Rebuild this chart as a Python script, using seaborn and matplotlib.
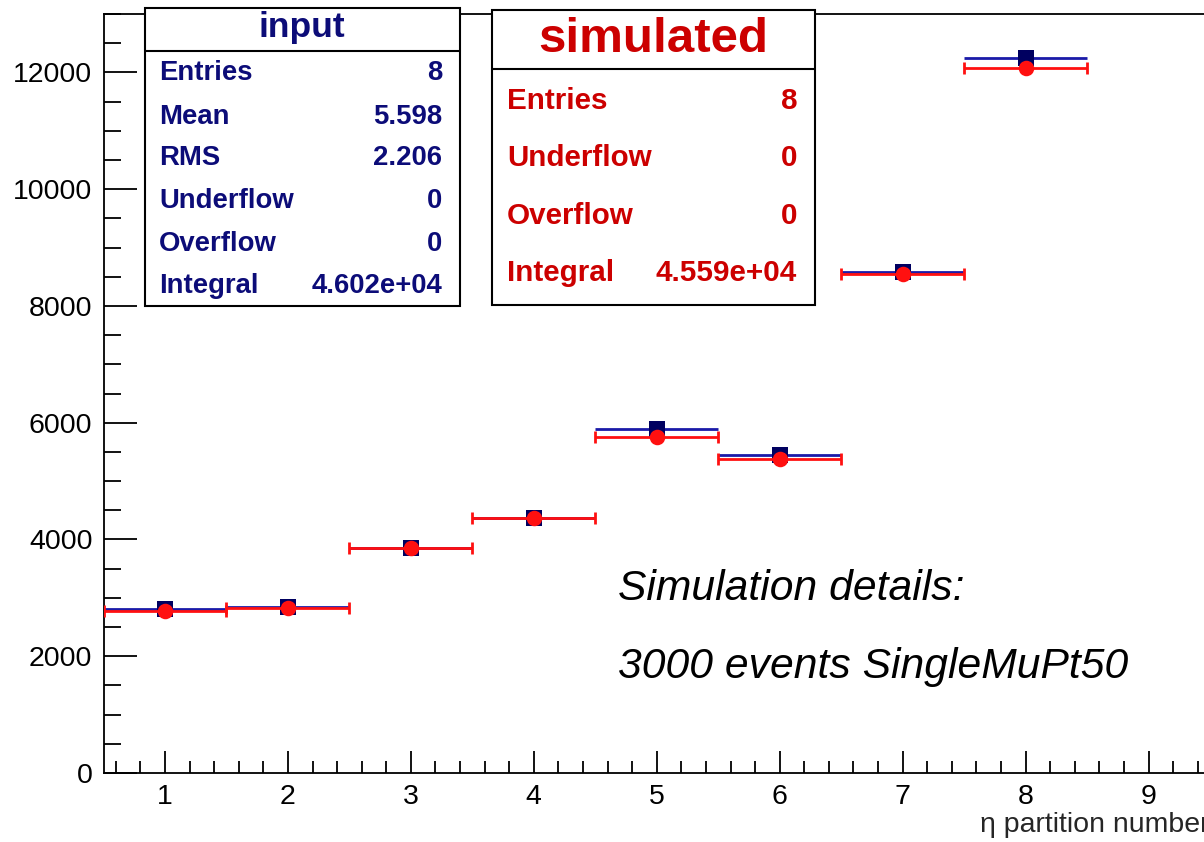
import numpy as np
import pandas as pd
import matplotlib
matplotlib.use("Agg")
import matplotlib.pyplot as plt
import seaborn as sns
from matplotlib.patches import Rectangle
from matplotlib.lines import Line2D
from matplotlib.ticker import MultipleLocator

# ---------------- data ----------------
partition = [1, 2, 3, 4, 5, 6, 7, 8]
input_counts = [2810, 2850, 3850, 4360, 5890, 5440, 8580, 12250]
sim_counts = [2780, 2820, 3850, 4370, 5760, 5380, 8550, 12080]
bin_half_width = 0.5

x_ticks = [1, 2, 3, 4, 5, 6, 7, 8, 9]
y_ticks = [0, 2000, 4000, 6000, 8000, 10000, 12000]
x_label = "η partition number"

input_title = "input"
input_stats = [("Entries", "8"), ("Mean", "5.598"), ("RMS", "2.206"),
               ("Underflow", "0"), ("Overflow", "0"), ("Integral", "4.602e+04")]
sim_title = "simulated"
sim_stats = [("Entries", "8"), ("Underflow", "0"), ("Overflow", "0"),
             ("Integral", "4.559e+04")]
note_lines = ["Simulation details:", "3000 events SingleMuPt50"]

# ---------------- style ----------------
sns.set_style("white")
plt.rcParams["font.family"] = ["Liberation Sans", "DejaVu Sans"]

NAVY = "#0c0c78"
NAVY_MARK = "#000060"
BLUE_LINE = "#1a1aa8"
RED = "#ff1010"
RED_TEXT = "#cc0000"

W, H = 1204, 842
fig = plt.figure(figsize=(W / 100, H / 100), dpi=100)


def fx(px):
    return px / W


def fy(py):
    return 1 - py / H


ax = fig.add_axes([fx(103.5), fy(773), (1210 - 103.5) / W, (773 - 14) / H])

df_in = pd.DataFrame({"partition": partition, "count": input_counts})
df_sim = pd.DataFrame({"partition": partition, "count": sim_counts})

ax.errorbar(df_in["partition"], df_in["count"], xerr=bin_half_width, fmt="none",
            ecolor=BLUE_LINE, elinewidth=2.0, capsize=0, zorder=2)
sns.scatterplot(data=df_in, x="partition", y="count", marker="s", s=135,
                color=NAVY_MARK, linewidth=0, ax=ax, zorder=3, legend=False)
ax.errorbar(df_sim["partition"], df_sim["count"], xerr=bin_half_width, fmt="none",
            ecolor=RED, elinewidth=2.0, capsize=4, capthick=2.0, zorder=4)
sns.scatterplot(data=df_sim, x="partition", y="count", marker="o", s=125,
                color=RED, linewidth=0, ax=ax, zorder=5, legend=False)

ax.set_xlim(0.5, 9.5)
ax.set_ylim(0, 13000)
ax.set_xticks(x_ticks)
ax.set_yticks(y_ticks)
ax.xaxis.set_minor_locator(MultipleLocator(0.2))
ax.yaxis.set_minor_locator(MultipleLocator(500))
ax.tick_params(which="both", bottom=True, left=True, top=False, right=False,
               direction="in", color="black", width=1.3)
ax.tick_params(axis="x", which="major", length=16, labelsize=20.5, pad=8,
               labelcolor="black")
ax.tick_params(axis="x", which="minor", length=9)
ax.tick_params(axis="y", which="major", length=24, labelsize=20.5, pad=8,
               labelcolor="black")
ax.tick_params(axis="y", which="minor", length=12)
for sp in ax.spines.values():
    sp.set_visible(True)
    sp.set_color("black")
    sp.set_linewidth(1.3)
ax.set_xlabel(x_label, loc="right", fontsize=20.5, labelpad=1)
ax.set_ylabel("")


# ---------------- stat boxes ----------------
def stat_box(x0, y0, x1, y1, ysep, title, title_xy, title_size, rows, row_ys,
             lx, rx, size, color):
    fig.add_artist(Rectangle((fx(x0), fy(y1)), fx(x1) - fx(x0), fy(y0) - fy(y1),
                             transform=fig.transFigure, facecolor="white",
                             edgecolor="black", linewidth=1.5, zorder=10))
    fig.add_artist(Line2D([fx(x0), fx(x1)], [fy(ysep), fy(ysep)],
                          transform=fig.transFigure, color="black",
                          linewidth=1.5, zorder=11))
    fig.text(fx(title_xy[0]), fy(title_xy[1]), title, ha="center", va="center",
             fontsize=title_size, fontweight="bold", color=color, zorder=12)
    for (lab, val), ry in zip(rows, row_ys):
        fig.text(fx(lx), fy(ry), lab, ha="left", va="center", fontsize=size,
                 fontweight="bold", color=color, zorder=12)
        fig.text(fx(rx), fy(ry), val, ha="right", va="center", fontsize=size,
                 fontweight="bold", color=color, zorder=12)


stat_box(145, 8, 460, 306, 51, input_title, (302, 28), 25.5, input_stats,
         [73, 117, 158, 201, 244, 286], 159, 442, 19.8, NAVY)
stat_box(492, 10, 815, 305, 69, sim_title, (653, 39), 35.5, sim_stats,
         [101, 158, 216, 273], 507, 797, 21.3, RED_TEXT)

# ---------------- note ----------------
fig.text(fx(618), fy(600), note_lines[0], ha="left", va="baseline",
         fontsize=30.7, style="italic", color="black")
fig.text(fx(618), fy(678), note_lines[1], ha="left", va="baseline",
         fontsize=30.7, style="italic", color="black")

fig.savefig("out.png", dpi=100)
